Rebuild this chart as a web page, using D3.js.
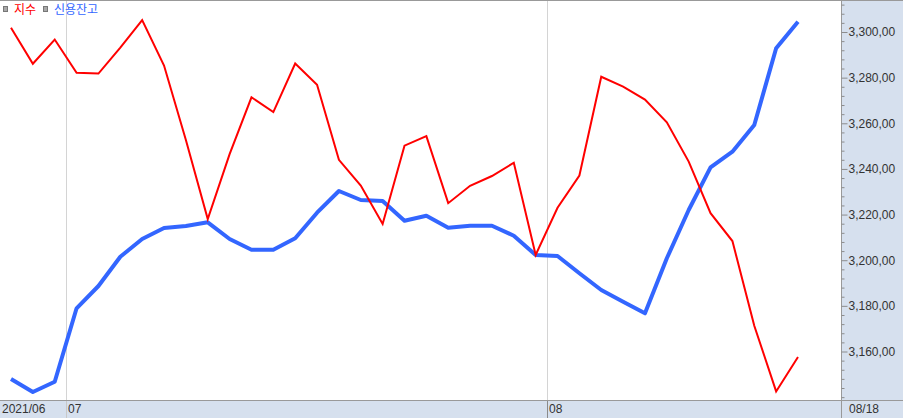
<!DOCTYPE html>
<html><head><meta charset="utf-8">
<script src="https://cdn.jsdelivr.net/npm/d3@7"></script>
<style>
html,body{margin:0;padding:0;background:#fff;}
svg{display:block;}
</style>
</head><body>
<svg id="chart" width="903" height="418"></svg>
<script>
// ---- data ----
const dates = ["2021-06-28","2021-06-29","2021-06-30",
  "2021-07-01","2021-07-02","2021-07-05","2021-07-06","2021-07-07","2021-07-08","2021-07-09",
  "2021-07-12","2021-07-13","2021-07-14","2021-07-15","2021-07-16","2021-07-19","2021-07-20",
  "2021-07-21","2021-07-22","2021-07-23","2021-07-26","2021-07-27","2021-07-28","2021-07-29",
  "2021-07-30","2021-08-02","2021-08-03","2021-08-04","2021-08-05","2021-08-06","2021-08-09",
  "2021-08-10","2021-08-11","2021-08-12","2021-08-13","2021-08-17","2021-08-18"];
// 지수 (index)
const kospi = [3301.9,3286.1,3296.7,3282.1,3281.8,3293.2,3305.2,3285.3,3252.7,3218.0,
  3246.5,3271.4,3264.9,3286.2,3276.9,3244.0,3232.7,3215.9,3250.2,3254.4,
  3225.0,3232.6,3236.9,3242.7,3202.3,3223.0,3237.1,3280.4,3276.1,3270.4,
  3260.4,3243.2,3220.6,3208.4,3171.3,3142.5,3157.6];
// 신용잔고 (credit balance, 억원 – separate hidden scale)
const credit = [235950,235300,235815,239485,240600,242065,242950,243500,243600,243785,
  242950,242415,242415,242985,244265,245350,244900,244850,243865,244115,
  243515,243615,243615,243115,242150,242100,241235,240400,239815,239235,
  241985,244400,246535,247315,248650,252485,253815];
const creditDomain = [235000, 254900];
const yTicks = [3160,3180,3200,3220,3240,3260,3280,3300];
const monthLabels = ["2021/06","07","08"];
const endLabel = "08/18";
const seriesNames = ["지수","신용잔고"];

// ---- layout ----
const W = 903, H = 418;
const plotR = 841, plotB = 400;
const bg = "#d6e0ee";
const svg = d3.select("#chart");

svg.append("rect").attr("x",0).attr("y",0).attr("width",W).attr("height",H).attr("fill","#fff");
svg.append("rect").attr("x",plotR).attr("y",0).attr("width",W-plotR).attr("height",H).attr("fill",bg);
svg.append("rect").attr("x",0).attr("y",plotB).attr("width",W).attr("height",H-plotB).attr("fill",bg);

const x = d3.scalePoint().domain(dates).range([11, 798]);
const y = d3.scaleLinear().domain([3160, 3300]).range([351.5, 32]);
const yB = d3.scaleLinear().domain(creditDomain).range([398, 0]);

// month boundaries
const monthKey = d => d.slice(0,7);
const bounds = [];
for (let i=1;i<dates.length;i++){
  if (monthKey(dates[i])!==monthKey(dates[i-1])) bounds.push((x(dates[i])+x(dates[i-1]))/2);
}
bounds.forEach((bx,i)=>{
  svg.append("line").attr("x1",Math.round(bx)+0.5).attr("x2",Math.round(bx)+0.5)
    .attr("y1",0).attr("y2",plotB).attr("stroke","#d4d4d4");
  svg.append("line").attr("x1",Math.round(bx)+0.5).attr("x2",Math.round(bx)+0.5)
    .attr("y1",plotB).attr("y2",H).attr("stroke", i===0 ? "#c8c8c8" : "#8a8a8a");
});

// lines
const lineB = d3.line().x((d,i)=>x(dates[i])).y(d=>yB(d));
const lineR = d3.line().x((d,i)=>x(dates[i])).y(d=>y(d));
svg.append("path").datum(credit).attr("d",lineB).attr("fill","none")
  .attr("stroke","#3366ff").attr("stroke-width",4).attr("stroke-linejoin","round");
svg.append("path").datum(kospi).attr("d",lineR).attr("fill","none")
  .attr("stroke","#ff0000").attr("stroke-width",2);

// borders
svg.append("line").attr("x1",0).attr("x2",W).attr("y1",0.5).attr("y2",0.5).attr("stroke","#999");
svg.append("line").attr("x1",0).attr("x2",W).attr("y1",plotB+0.5).attr("y2",plotB+0.5).attr("stroke","#999");
svg.append("line").attr("x1",plotR+0.5).attr("x2",plotR+0.5).attr("y1",0).attr("y2",H).attr("stroke","#999");

// right axis (labels drawn as in the reference: "3,300,00")
const fmt = v => d3.format(",.2f")(v).replace(".", ",");
const minorTicks = d3.range(3140, 3316, 4).filter(v=>!yTicks.includes(v));
const gMinor = svg.append("g").attr("transform",`translate(${plotR+0.5},0)`)
  .call(d3.axisRight(y).tickValues(minorTicks).tickSize(3).tickFormat(""));
gMinor.select(".domain").remove();
gMinor.selectAll("line").attr("stroke","#8c8c8c");
const gMajor = svg.append("g").attr("transform",`translate(${plotR+0.5},0)`)
  .call(d3.axisRight(y).tickValues(yTicks).tickSize(6).tickPadding(1).tickFormat(fmt));
gMajor.select(".domain").remove();
gMajor.selectAll("line").attr("stroke","#8c8c8c");
gMajor.selectAll("text").attr("fill","#333").attr("font-family","'Liberation Sans', Arial, sans-serif")
  .attr("font-size","12px");

// bottom labels
const labelFont = "'Liberation Sans', Arial, sans-serif";
const labelXs = [2, Math.round(bounds[0])+2, Math.round(bounds[1])+2];
monthLabels.forEach((t,i)=>{
  svg.append("text").attr("x",labelXs[i]).attr("y",413).text(t)
    .attr("fill","#333").attr("font-family",labelFont).attr("font-size","12px");
});
svg.append("text").attr("x",849).attr("y",413).text(endLabel)
  .attr("fill","#333").attr("font-family",labelFont).attr("font-size","12px");

// legend
const lg = svg.append("g");
const legendColors = ["#ff0000","#3366ff"];
const legendX = [3, 43];
seriesNames.forEach((n,i)=>{
  lg.append("rect").attr("x",legendX[i]+0.5).attr("y",6.5).attr("width",4).attr("height",5)
    .attr("fill","#a8a8a8").attr("stroke","#777");
  lg.append("text").attr("x",legendX[i]+11).attr("y",13.5).text(n)
    .attr("fill",legendColors[i]).attr("font-family","'Noto Sans CJK KR', sans-serif").attr("font-size","12px");
});
</script>
</body></html>
